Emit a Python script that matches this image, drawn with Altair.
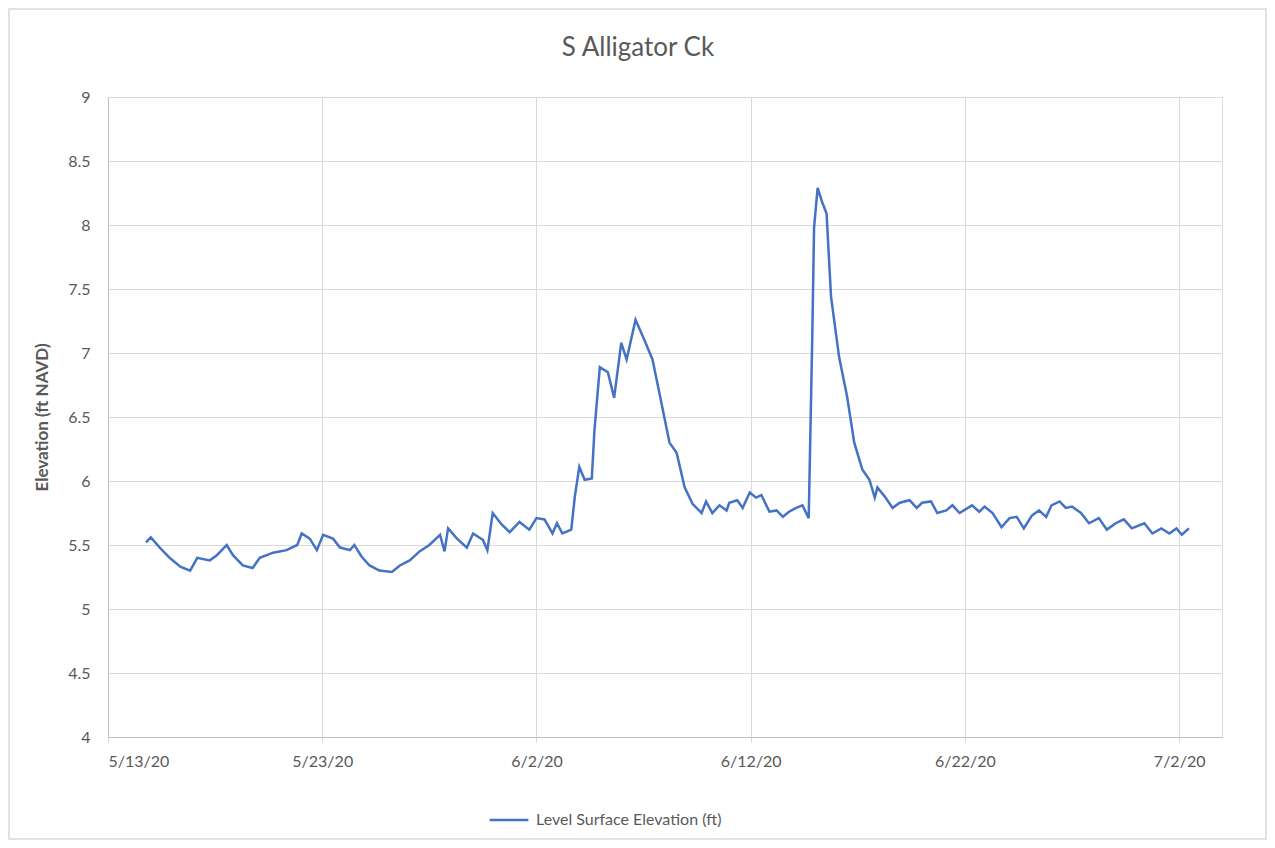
import altair as alt
import pandas as pd

times = [
    "2020-05-14T18:30", "2020-05-15T00:00", "2020-05-15T10:00", "2020-05-15T21:00",
    "2020-05-16T09:00", "2020-05-16T20:00", "2020-05-17T04:00", "2020-05-17T18:00",
    "2020-05-18T02:00", "2020-05-18T13:00", "2020-05-18T20:00", "2020-05-19T07:00",
    "2020-05-19T18:00", "2020-05-20T02:00", "2020-05-20T17:00", "2020-05-21T08:00",
    "2020-05-21T20:00", "2020-05-22T01:00", "2020-05-22T10:00", "2020-05-22T18:00",
    "2020-05-23T01:00", "2020-05-23T12:00", "2020-05-23T20:00", "2020-05-24T07:00",
    "2020-05-24T12:00", "2020-05-24T20:00", "2020-05-25T05:00", "2020-05-25T16:00",
    "2020-05-26T06:00", "2020-05-26T15:00", "2020-05-27T02:00", "2020-05-27T13:00",
    "2020-05-28T00:00", "2020-05-28T12:00", "2020-05-28T17:00", "2020-05-28T21:00",
    "2020-05-29T07:00", "2020-05-29T18:00", "2020-05-30T01:00", "2020-05-30T12:00",
    "2020-05-30T17:00", "2020-05-30T23:00", "2020-05-31T09:00", "2020-05-31T18:00",
    "2020-06-01T05:00", "2020-06-01T16:00", "2020-06-02T00:00", "2020-06-02T09:00",
    "2020-06-02T18:00", "2020-06-02T23:00", "2020-06-03T05:00", "2020-06-03T15:00",
    "2020-06-03T19:00", "2020-06-04T00:00", "2020-06-04T06:00", "2020-06-04T14:00",
    "2020-06-04T17:00", "2020-06-04T23:00", "2020-06-05T08:00", "2020-06-05T15:00",
    "2020-06-05T23:00", "2020-06-06T05:00", "2020-06-06T15:00", "2020-06-07T01:00",
    "2020-06-07T10:00", "2020-06-07T20:00", "2020-06-08T05:00", "2020-06-08T13:00",
    "2020-06-08T22:00", "2020-06-09T07:00", "2020-06-09T17:00", "2020-06-09T22:00",
    "2020-06-10T05:00", "2020-06-10T13:00", "2020-06-10T21:00", "2020-06-11T00:00",
    "2020-06-11T09:00", "2020-06-11T15:00", "2020-06-11T23:00", "2020-06-12T06:00",
    "2020-06-12T12:00", "2020-06-12T21:00", "2020-06-13T05:00", "2020-06-13T12:00",
    "2020-06-13T19:00", "2020-06-14T03:00", "2020-06-14T10:00", "2020-06-14T17:00",
    "2020-06-14T21:00", "2020-06-14T23:00", "2020-06-15T03:00", "2020-06-15T08:00",
    "2020-06-15T13:00", "2020-06-15T18:00", "2020-06-16T03:00", "2020-06-16T12:00",
    "2020-06-16T20:00", "2020-06-17T05:00", "2020-06-17T13:00", "2020-06-17T19:00",
    "2020-06-17T22:00", "2020-06-18T06:00", "2020-06-18T15:00", "2020-06-18T23:00",
    "2020-06-19T10:00", "2020-06-19T18:00", "2020-06-20T00:00", "2020-06-20T10:00",
    "2020-06-20T17:00", "2020-06-21T03:00", "2020-06-21T10:00", "2020-06-21T18:00",
    "2020-06-22T08:00", "2020-06-22T16:00", "2020-06-22T22:00", "2020-06-23T07:00",
    "2020-06-23T17:00", "2020-06-24T02:00", "2020-06-24T10:00", "2020-06-24T18:00",
    "2020-06-25T03:00", "2020-06-25T11:00", "2020-06-25T19:00", "2020-06-26T01:00",
    "2020-06-26T10:00", "2020-06-26T17:00", "2020-06-27T00:00", "2020-06-27T10:00",
    "2020-06-27T19:00", "2020-06-28T06:00", "2020-06-28T15:00", "2020-06-29T01:00",
    "2020-06-29T10:00", "2020-06-29T19:00", "2020-06-30T09:00", "2020-06-30T18:00",
    "2020-07-01T04:00", "2020-07-01T13:00", "2020-07-01T21:00", "2020-07-02T03:00",
    "2020-07-02T11:00",
]

elevation = [
    5.52, 5.56, 5.48, 5.40,
    5.33, 5.30, 5.40, 5.38,
    5.42, 5.50, 5.42, 5.34,
    5.32, 5.40, 5.44, 5.46,
    5.50, 5.59, 5.55, 5.46,
    5.58, 5.55, 5.48, 5.46,
    5.50, 5.41, 5.34, 5.30,
    5.29, 5.34, 5.38, 5.45,
    5.50, 5.58, 5.45, 5.63,
    5.55, 5.48, 5.59, 5.54,
    5.46, 5.75, 5.66, 5.60,
    5.68, 5.62, 5.71, 5.70,
    5.59, 5.67, 5.59, 5.62,
    5.88, 6.11, 6.01, 6.02,
    6.40, 6.89, 6.85, 6.65,
    7.08, 6.95, 7.26, 7.10,
    6.95, 6.61, 6.30, 6.22,
    5.95, 5.82, 5.75, 5.84,
    5.75, 5.81, 5.77, 5.83,
    5.85, 5.79, 5.91, 5.87,
    5.89, 5.76, 5.77, 5.72,
    5.76, 5.79, 5.81, 5.71,
    7.13, 7.98, 8.29, 8.18,
    8.09, 7.44, 6.97, 6.66,
    6.30, 6.09, 6.01, 5.87,
    5.95, 5.88, 5.79, 5.83,
    5.85, 5.79, 5.83, 5.84,
    5.75, 5.77, 5.81, 5.75,
    5.81, 5.76, 5.80, 5.75,
    5.64, 5.71, 5.72, 5.63,
    5.73, 5.77, 5.72, 5.81,
    5.84, 5.79, 5.80, 5.75,
    5.67, 5.71, 5.62, 5.67,
    5.70, 5.63, 5.67, 5.59,
    5.63, 5.59, 5.63, 5.58,
    5.63,
]

series_name = "Level Surface Elevation (ft)"
title_text = "S Alligator Ck"
y_title = "Elevation (ft NAVD)"
x_tick_dates = [(2020, 5, 13), (2020, 5, 23), (2020, 6, 2), (2020, 6, 12), (2020, 6, 22), (2020, 7, 2)]
y_ticks = [4, 4.5, 5, 5.5, 6, 6.5, 7, 7.5, 8, 8.5, 9]

df = pd.DataFrame({"time": times, "elevation": elevation, "series": series_name})

FONT = "Lato"
TEXT = "#595959"
GRID = "#d9d9d9"

W, H = 1114, 640
PAD = {"left": 100, "top": 89, "right": 45, "bottom": 103}

xvals = [alt.DateTime(year=y, month=m, date=d) for (y, m, d) in x_tick_dates]

line = alt.Chart(df).mark_line(strokeWidth=2.5, color="#4472C4").encode(
    x=alt.X(
        "time:T",
        scale=alt.Scale(domain=[alt.DateTime(year=2020, month=5, date=13),
                                alt.DateTime(year=2020, month=7, date=4)]),
        axis=alt.Axis(
            values=xvals, format="%-m/%-d/%y", title=None,
            grid=True, gridColor=GRID, gridWidth=1,
            domainColor="#bfbfbf", tickColor=GRID, tickSize=5,
            labelColor=TEXT, labelFont=FONT, labelFontSize=16,
            labelPadding=11, labelAngle=0,
        ),
    ),
    y=alt.Y(
        "elevation:Q",
        scale=alt.Scale(domain=[4, 9], nice=False, zero=False),
        axis=alt.Axis(
            values=y_ticks, title=y_title, format="~g",
            grid=True, gridColor=GRID, gridWidth=1,
            domainColor="#bfbfbf", ticks=False,
            labelColor=TEXT, labelFont=FONT, labelFontSize=16, labelPadding=18,
            titleColor=TEXT, titleFont=FONT, titleFontSize=17, titleFontWeight="bold",
            titlePadding=16,
        ),
    ),
    color=alt.Color(
        "series:N",
        scale=alt.Scale(domain=[series_name], range=["#4472C4"]),
        legend=alt.Legend(
            title=None, orient="none", legendX=380, legendY=702,
            symbolType="stroke", symbolStrokeWidth=2.5, symbolSize=1500,
            labelColor=TEXT, labelFont=FONT, labelFontSize=16, labelOffset=6,
            labelLimit=0,
        ),
    ),
)

one_row = alt.Data(values=[{}])

border = alt.Chart(one_row).mark_rect(
    fill=None, stroke=GRID, strokeWidth=1.5
).encode(
    x=alt.value(-PAD["left"] + 1),
    x2=alt.value(W + PAD["right"] - 1),
    y=alt.value(-PAD["top"] + 1),
    y2=alt.value(H + PAD["bottom"] - 1),
)

title = alt.Chart(one_row).mark_text(
    text=title_text, font=FONT, fontSize=26, color=TEXT,
    align="center", baseline="middle",
).encode(
    x=alt.value(W / 2 - 27),
    y=alt.value(-49),
)

chart = alt.layer(border, title, line).properties(
    width=W, height=H,
    autosize=alt.AutoSizeParams(type="none"),
    padding=PAD,
).configure_view(stroke=None).configure(background="white")

chart.save("out.html", embed_options={"renderer": "svg", "actions": False})
